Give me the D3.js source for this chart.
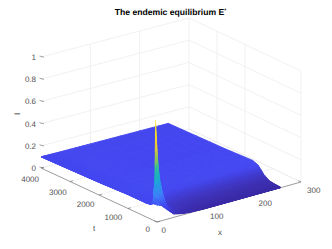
<!DOCTYPE html>
<html>
<head>
<meta charset="utf-8">
<style>
html, body { margin: 0; padding: 0; background: #fff; }
svg { display: block; }
text { font-family: "Liberation Sans", Arial, sans-serif; fill: #505050; font-size: 8px; text-rendering: geometricPrecision; }
</style>
<script src="https://cdn.jsdelivr.net/npm/d3@7"></script>
</head>
<body>
<div id="graph-area"></div>
<script>
var xValues = [0, 2, 4, 6, 9, 13, 18, 25, 35, 50, 70, 100, 180, 258];
var tValues = [0, 25, 50, 80, 130, 240, 400, 600, 800, 1000, 2000, 4000];
// I(x,t), one row per t value
var iRows = [
	[.15, .15, .15, .14, .14, .12, .10, .07, .03, .015, .005, 0, 0, 0],
	[.40, .34, .28, .24, .20, .16, .12, .08, .04, .018, .006, .001, 0, 0],
	[.91, .72, .58, .47, .36, .26, .18, .10, .05, .02, .008, .002, .001, .001],
	[.40, .34, .28, .24, .20, .16, .13, .09, .05, .025, .012, .004, .003, .002],
	[.18, .17, .16, .15, .14, .13, .12, .09, .06, .03, .016, .008, .005, .004],
	[.13, .13, .13, .13, .125, .12, .11, .09, .065, .04, .025, .014, .009, .007],
	[.125, .125, .125, .125, .12, .115, .11, .095, .07, .05, .035, .025, .018, .012],
	[.125, .125, .125, .125, .12, .115, .11, .10, .09, .08, .07, .06, .05, .045],
	[.125, .125, .125, .125, .12, .12, .12, .115, .115, .11, .11, .11, .105, .105],
	[.125, .125, .125, .125, .125, .125, .125, .125, .125, .125, .125, .125, .125, .125],
	[.113, .113, .113, .113, .113, .113, .113, .113, .113, .113, .113, .113, .113, .113],
	[.10, .10, .10, .10, .10, .10, .10, .10, .10, .10, .10, .10, .10, .10]
];
var xTicks = [0, 100, 200, 300];
var tTicks = [0, 1000, 2000, 3000, 4000];
var zTicks = [0, 0.2, 0.4, 0.6, 0.8, 1];
// the grid lines that survive in the small picture
var backWallX = [100, 200];
var sideWallT = [0, 2000, 3000, 4000];
var parulaStops = [0, .11, .14, .25, .4, .5, .6, .72, .85, 1];
var parulaColors = ["#3a2aa6", "#4446ee", "#4449f2", "#3f7ff9", "#1fa8db", "#20bcae", "#7ac75f", "#f0c63a", "#f9dc24", "#f9f815"];

var width = 332, height = 249;
var svg = d3.select("#graph-area").append("svg")
	.attr("width", width).attr("height", height);

// box corners on screen: front, right, left, back
var uScale = d3.scaleLinear().domain([0, 300]).range([0, 1]);
var vScale = d3.scaleLinear().domain([0, 4000]).range([0, 1]);
var zScale = d3.scaleLinear().domain([0, 1]).range([0, 111]);
var frontEdgeX = d3.scaleLinear().domain([0, 1]).range([157, 301]);
var backEdgeX = d3.scaleLinear().domain([0, 1]).range([41, 189]);
var frontEdgeY = d3.scaleLinear().domain([0, 1]).range([222, 182]);
var backEdgeY = d3.scaleLinear().domain([0, 1]).range([168, 129]);
var color = d3.scaleLinear().domain(parulaStops).range(parulaColors).clamp(true);
var colorZ = d3.scaleLinear().domain([0, 0.91]).range([0, 1]);

function project(x, t, z){
	var u = uScale(x), v = vScale(t);
	return [
		frontEdgeX(u) + (backEdgeX(u) - frontEdgeX(u)) * v,
		frontEdgeY(u) + (backEdgeY(u) - frontEdgeY(u)) * v - zScale(z)
	];
}

function addLine(p, q, stroke, w){
	svg.append("line")
		.attr("x1", p[0]).attr("y1", p[1])
		.attr("x2", q[0]).attr("y2", q[1])
		.attr("stroke", stroke).attr("stroke-width", w);
}

var gridColor = "#ebebeb";
// walls
zTicks.forEach(function(z){
	addLine(project(0, 4000, z), project(300, 4000, z), gridColor, 0.7);
	addLine(project(300, 4000, z), project(300, 0, z), gridColor, 0.7);
});
backWallX.forEach(function(x){
	addLine(project(x, 4000, 0), project(x, 4000, 1), gridColor, 0.7);
});
sideWallT.forEach(function(t){
	addLine(project(300, t, 0), project(300, t, 1), gridColor, 0.7);
});
// floor
xTicks.forEach(function(x){
	addLine(project(x, 0, 0), project(x, 4000, 0), gridColor, 0.7);
});
tTicks.forEach(function(t){
	addLine(project(0, t, 0), project(300, t, 0), gridColor, 0.7);
});

// axes
var axisColor = "#666666";
addLine(project(0, 0, 0), project(300, 0, 0), axisColor, 0.6);
addLine(project(0, 0, 0), project(0, 4000, 0), axisColor, 0.6);
xTicks.forEach(function(x){
	addLine(project(x, 0, 0), project(x, 100, 0), axisColor, 0.6);
});
tTicks.forEach(function(t){
	addLine(project(0, t, 0), project(6, t, 0), axisColor, 0.6);
});
zTicks.forEach(function(z){
	var p = project(0, 4000, z);
	addLine([p[0] - 1.5, p[1] - 1], [p[0] + 3, p[1] + 0.2], axisColor, 0.6);
});

// surface, back to front, each cell split up so that the shading looks interpolated
var steps = 4;
var surface = svg.append("g");
function lerp(a, b, f){ return a + (b - a) * f; }
function sample(i, j, fi, fj){
	var z0 = lerp(iRows[i][j], iRows[i][j + 1], fj);
	var z1 = lerp(iRows[i + 1][j], iRows[i + 1][j + 1], fj);
	return {
		x: lerp(xValues[j], xValues[j + 1], fj),
		t: lerp(tValues[i], tValues[i + 1], fi),
		z: lerp(z0, z1, fi)
	};
}
for(var i = tValues.length - 2; i >= 0; i--){
	for(var si = steps - 1; si >= 0; si--){
		for(var j = xValues.length - 2; j >= 0; j--){
			for(var sj = steps - 1; sj >= 0; sj--){
				var corners = [
					sample(i, j, si / steps, sj / steps),
					sample(i, j, si / steps, (sj + 1) / steps),
					sample(i, j, (si + 1) / steps, (sj + 1) / steps),
					sample(i, j, (si + 1) / steps, sj / steps)
				];
				var meanZ = d3.mean(corners, function(d){ return d.z; });
				var c = color(colorZ(meanZ));
				surface.append("path")
					.attr("d", "M" + corners.map(function(d){ return project(d.x, d.t, d.z).join(","); }).join("L") + "Z")
					.attr("fill", c)
					.attr("stroke", c)
					// thin outline on the spike or it comes out too fat
					.attr("stroke-width", meanZ > 0.3 ? 0.25 : 0.9)
					.attr("stroke-linejoin", "round");
			}
		}
	}
}

// tick labels
var zLabelY = d3.scaleLinear().domain([0, 1]).range([171, 60]);
svg.selectAll(".z-label").data(zTicks).enter().append("text")
	.attr("class", "z-label")
	.attr("x", 36)
	.attr("y", function(d){ return zLabelY(d); })
	.attr("text-anchor", "end")
	.text(function(d){ return d; });

var tLabelX = d3.scaleLinear().domain([0, 4000]).range([150, 39]);
var tLabelY = d3.scaleLinear().domain([0, 4000]).range([232, 182]);
svg.selectAll(".t-label").data(tTicks).enter().append("text")
	.attr("class", "t-label")
	.attr("x", function(d){ return tLabelX(d); })
	.attr("y", function(d){ return tLabelY(d); })
	.attr("text-anchor", "end")
	.text(function(d){ return d; });

var xLabelX = d3.scaleLinear().domain([0, 300]).range([161.5, 307]);
var xLabelY = d3.scaleLinear().domain([0, 300]).range([232.5, 193]);
svg.selectAll(".x-label").data(xTicks).enter().append("text")
	.attr("class", "x-label")
	.attr("x", function(d){ return xLabelX(d); })
	.attr("y", function(d){ return xLabelY(d); })
	.text(function(d){ return d; });

// axis names and title
svg.append("text").attr("x", 94).attr("y", 231).attr("text-anchor", "middle").text("t");
svg.append("text").attr("x", 220).attr("y", 235).attr("text-anchor", "middle").text("x");
svg.append("text").attr("transform", "translate(20,114) rotate(-90)").attr("text-anchor", "middle").style("fill", "#000").text("I");

var title = svg.append("text")
	.attr("x", 170.5).attr("y", 15)
	.attr("text-anchor", "middle")
	.style("font-weight", "bold")
	.style("font-size", "8.6px")
	.style("fill", "#000")
	.text("The endemic equilibrium E");
title.append("tspan").attr("dy", -3).style("font-size", "5px").text("*");
</script>
</body>
</html>
